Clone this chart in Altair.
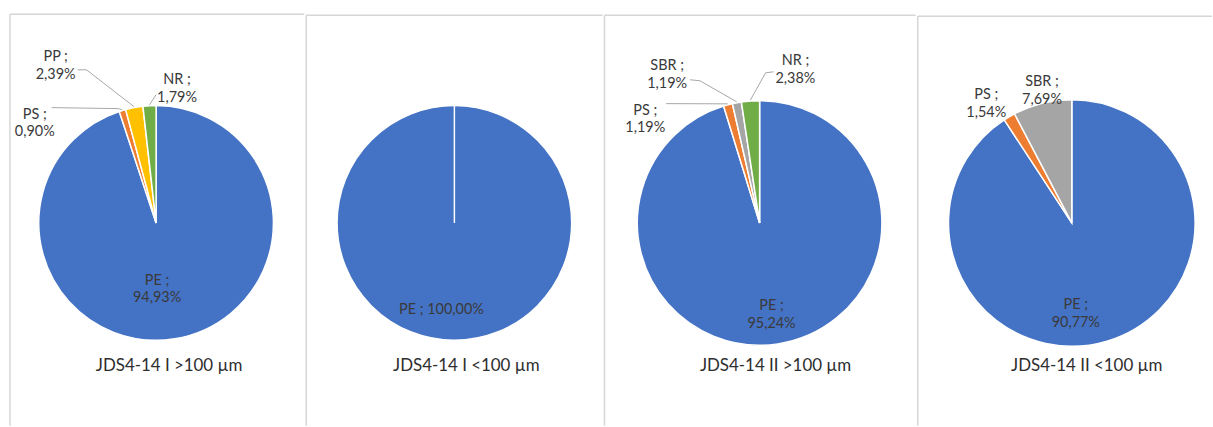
import math

import altair as alt
import pandas as pd

# Polymer composition of four JDS4-14 samples (share in %)
polymers_1 = ["PE", "PS", "PP", "NR"]
shares_1 = [94.93, 0.90, 2.39, 1.79]

polymers_2 = ["PE"]
shares_2 = [100.00]

polymers_3 = ["PE", "PS", "SBR", "NR"]
shares_3 = [95.24, 1.19, 1.19, 2.38]

polymers_4 = ["PE", "PS", "SBR"]
shares_4 = [90.77, 1.54, 7.69]

sample_titles = [
    "JDS4-14 I >100 µm",
    "JDS4-14 I <100 µm",
    "JDS4-14 II >100 µm",
    "JDS4-14 II <100 µm",
]

polymer_names = ["PE", "PS", "PP", "SBR", "NR"]
polymer_colors = ["#4472C4", "#ED7D31", "#FFC000", "#A5A5A5", "#70AD47"]

# ---- layout (pixels, local to each panel) ----
PANEL_H = 427
panel_widths = [306, 298, 313, 296]
frame_left = [10, 0, 0, 0]
frame_top = [13, 14, 14, 15]
pie_center = [(157, 223), (149, 223), (156, 223), (155, 223)]
pie_radius = [118, 118, 123, 124]
title_pos = [(170, 367), (161, 367), (172, 367), (170, 367)]

# centre of each data label block
label_pos = [
    {"PE": (158, 281), "PS": (35, 114), "PP": (56, 56), "NR": (178, 79)},
    {"PE": (136, 311)},
    {"PE": (168, 307), "PS": (41, 110), "SBR": (63, 65), "NR": (192, 60)},
    {"PE": (159, 306), "PS": (69, 94), "SBR": (125, 81)},
]
# leader line points next to the label; the line ends on its slice
leader_start = [
    {"PS": [(52, 107), (119, 108)], "PP": [(78, 69), (87, 69)], "NR": [(157, 94)]},
    {},
    {"PS": [(62, 103)], "SBR": [(86, 79), (96, 80)], "NR": [(170, 71), (162, 72)]},
    {},
]
single_line_labels = [False, True, False, False]

FONT = "Lato"
TEXT_COLOR = "#3a3a3a"
FRAME_COLOR = "#d6d6d6"
LEADER_COLOR = "#a6a6a6"

color_scale = alt.Scale(domain=polymer_names, range=polymer_colors)
dummy = pd.DataFrame({"k": [0]})


def pct(v):
    return f"{v:.2f}%".replace(".", ",")


def panel(i, names, shares):
    w = panel_widths[i]
    cx, cy = pie_center[i]
    r = pie_radius[i]
    df = pd.DataFrame({"polymer": names, "share": shares, "idx": range(len(names))})

    layers = []

    # frame: top and left edges
    left, top = frame_left[i], frame_top[i]
    layers.append(
        alt.Chart(dummy).mark_rule(color=FRAME_COLOR, strokeWidth=1.5).encode(
            x=alt.value(left), x2=alt.value(w), y=alt.value(top)
        )
    )
    layers.append(
        alt.Chart(dummy).mark_rule(color=FRAME_COLOR, strokeWidth=1.5).encode(
            x=alt.value(left), y=alt.value(top), y2=alt.value(PANEL_H)
        )
    )

    # pie slices, clockwise from 12 o'clock
    layers.append(
        alt.Chart(df).mark_arc(outerRadius=r, stroke="white", strokeWidth=1.5).encode(
            theta=alt.Theta("share:Q", stack=True),
            color=alt.Color("polymer:N", scale=color_scale, legend=None),
            order=alt.Order("idx:Q"),
            x=alt.value(cx),
            y=alt.value(cy),
        )
    )
    if len(names) == 1:
        # slice edge of a single full slice
        layers.append(
            alt.Chart(dummy).mark_rule(color="white", strokeWidth=1.5).encode(
                x=alt.value(cx), y=alt.value(cy - r), y2=alt.value(cy)
            )
        )

    # leader lines ending at the middle of each slice's outer edge
    total = sum(shares)
    cum = 0.0
    rows = []
    for name, v in zip(names, shares):
        mid = (cum + v / 2) / total * 2 * math.pi
        cum += v
        if name in leader_start[i]:
            pts = list(leader_start[i][name])
            pts.append((cx + (r + 1) * math.sin(mid), cy - (r + 1) * math.cos(mid)))
            for step, (px, py) in enumerate(pts):
                rows.append({"polymer": name, "step": step, "px": px, "py": py})
    if rows:
        layers.append(
            alt.Chart(pd.DataFrame(rows)).mark_line(color=LEADER_COLOR, strokeWidth=1).encode(
                x=alt.X("px:Q", scale=None, axis=None),
                y=alt.Y("py:Q", scale=None, axis=None),
                detail="polymer:N",
                order="step:Q",
            )
        )

    # data labels "NAME ; value%"
    lab = []
    for name, v in zip(names, shares):
        lx, ly = label_pos[i][name]
        sep = " " if single_line_labels[i] else "\n"
        lab.append({"txt": f"{name} ;{sep}{pct(v)}", "lx": lx, "ly": ly})
    layers.append(
        alt.Chart(pd.DataFrame(lab)).mark_text(
            font=FONT, fontSize=14.5, color=TEXT_COLOR, align="center",
            baseline="middle", lineBreak="\n", lineHeight=18,
        ).encode(
            x=alt.X("lx:Q", scale=None, axis=None),
            y=alt.Y("ly:Q", scale=None, axis=None),
            text="txt:N",
        )
    )

    # sample title under the pie
    tx, ty = title_pos[i]
    layers.append(
        alt.Chart(pd.DataFrame({"t": [sample_titles[i]]})).mark_text(
            font=FONT, fontSize=17, color="#2e2e2e", align="center", baseline="middle"
        ).encode(x=alt.value(tx), y=alt.value(ty), text="t:N")
    )

    return alt.layer(*layers).properties(width=w, height=PANEL_H)


chart = alt.hconcat(
    panel(0, polymers_1, shares_1),
    panel(1, polymers_2, shares_2),
    panel(2, polymers_3, shares_3),
    panel(3, polymers_4, shares_4),
    spacing=0,
).properties(
    padding=0,
    background="white",
).configure_view(stroke=None)

chart.save("out.html", embed_options={"renderer": "svg", "actions": False})
